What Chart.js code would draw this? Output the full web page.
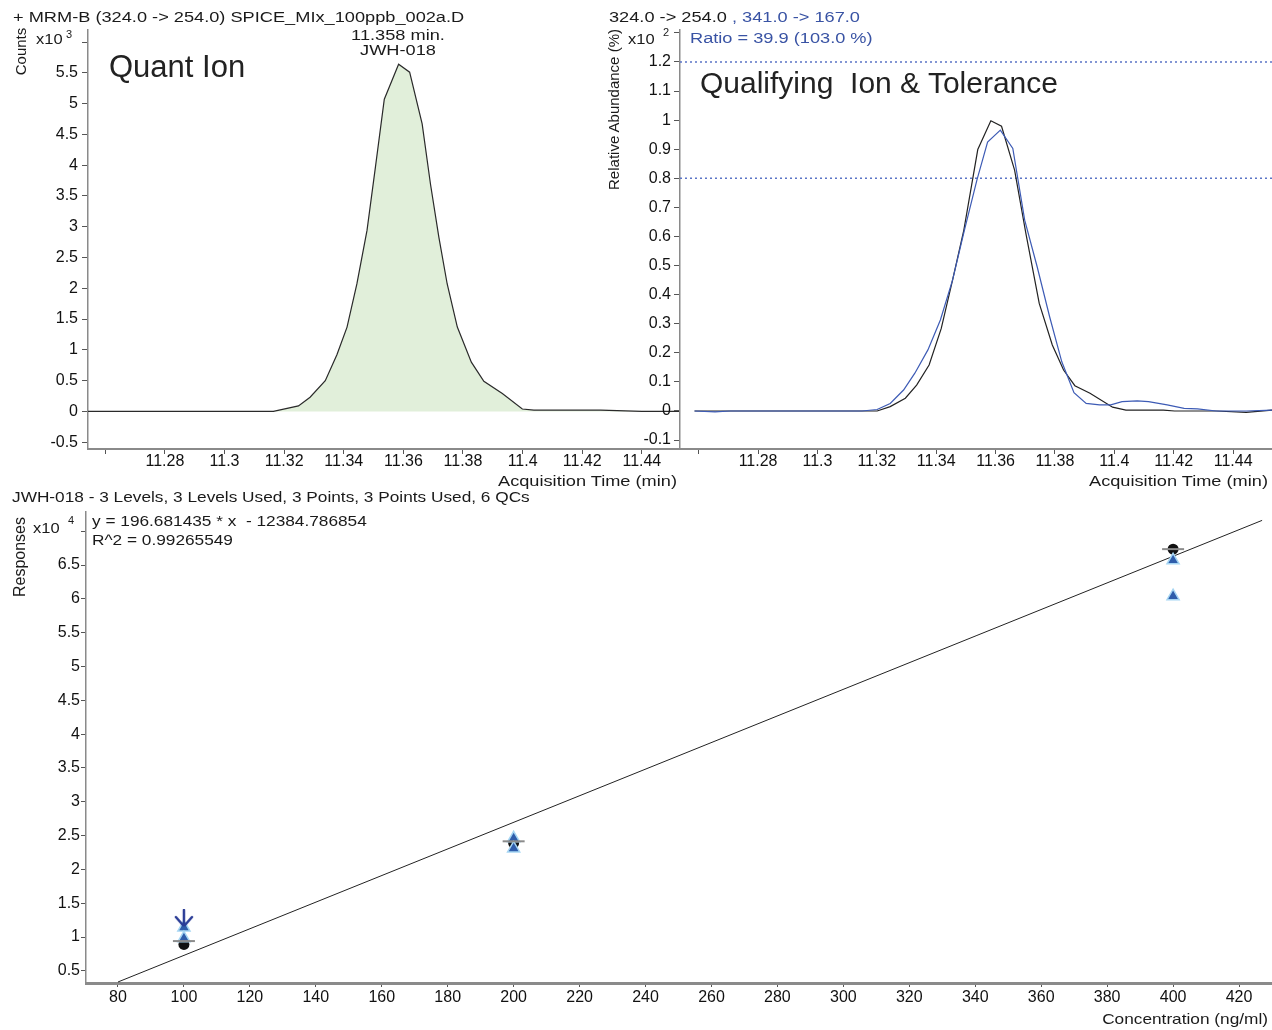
<!DOCTYPE html>
<html>
<head>
<meta charset="utf-8">
<title>JWH-018 quant ion / qualifier / calibration</title>
<script src="https://cdn.jsdelivr.net/npm/chart.js@4.4.1/dist/chart.umd.min.js"></script>
<style>
  html, body { margin: 0; padding: 0; background: #fff; }
  #page { position: relative; width: 1272px; height: 1030px; overflow: hidden;
          font-family: "Liberation Sans", Arial, Helvetica, sans-serif; color: #1a1a1a; }
  canvas { position: absolute; }
  .t { position: absolute; white-space: pre; line-height: 1; }
  .sm { font-size: 14px; transform: scaleX(1.3); transform-origin: left center; }
  .md { font-size: 15px; transform: scaleX(1.15); transform-origin: left center; }
  .x10 { font-size: 15px; transform: scaleX(1.1); transform-origin: left center; }
  .right { text-align: right; width: 300px; transform-origin: right center; }
  .center { text-align: center; width: 200px; transform-origin: center center; }
  .rot { text-align: center; transform: rotate(-90deg); transform-origin: center center; }
  .blue { color: #3953a4; }
</style>
</head>
<body>
<div id="page">
  <canvas id="quantChart" width="680" height="500" style="left:0;top:0"></canvas>
  <canvas id="qualChart" width="672" height="500" style="left:600px;top:0"></canvas>
  <canvas id="calChart" width="1272" height="530" style="left:0;top:500px"></canvas>

  <!-- quant ion panel -->
  <div class="t sm" style="left:13px;top:10px">+ MRM-B (324.0 -&gt; 254.0) SPICE_MIx_100ppb_002a.D</div>
  <div class="t rot" style="left:-20px;top:44px;width:80px;font-size:15px">Counts</div>
  <div class="t x10" style="left:36px;top:31px">x10</div>
  <div class="t" style="left:66px;top:29px;font-size:11px">3</div>
  <div class="t" style="left:109px;top:51px;font-size:31px;color:#222">Quant Ion</div>
  <div class="t sm center" style="left:298px;top:28px">11.358 min.</div>
  <div class="t sm center" style="left:298px;top:43px">JWH-018</div>
  <div class="t sm right" style="left:377px;top:474px">Acquisition Time (min)</div>

  <!-- qualifier panel -->
  <div class="t sm" style="left:609px;top:10px">324.0 -&gt; 254.0 <span class="blue">, 341.0 -&gt; 167.0</span></div>
  <div class="t sm blue" style="left:690px;top:31px">Ratio = 39.9 (103.0 %)</div>
  <div class="t rot" style="left:513px;top:102px;width:200px;font-size:15px">Relative Abundance (%)</div>
  <div class="t x10" style="left:628px;top:31px">x10</div>
  <div class="t" style="left:663px;top:27px;font-size:11px">2</div>
  <div class="t" style="left:700px;top:68px;font-size:30px;color:#222">Qualifying  Ion &amp; Tolerance</div>
  <div class="t sm right" style="left:968px;top:474px">Acquisition Time (min)</div>

  <!-- calibration panel -->
  <div class="t md" style="left:12px;top:489px">JWH-018 - 3 Levels, 3 Levels Used, 3 Points, 3 Points Used, 6 QCs</div>
  <div class="t rot" style="left:-80px;top:549px;width:200px;font-size:16px">Responses</div>
  <div class="t x10" style="left:33px;top:520px">x10</div>
  <div class="t" style="left:68px;top:515px;font-size:11px">4</div>
  <div class="t md" style="left:92px;top:513px">y = 196.681435 * x  - 12384.786854</div>
  <div class="t md" style="left:92px;top:532px">R^2 = 0.99265549</div>
  <div class="t md right" style="left:968px;top:1011px">Concentration (ng/ml)</div>
</div>

<script>
// ---- quant ion trace (324.0 -> 254.0), counts x10^3 ----
const quantTime = [11.2542, 11.3000, 11.3164, 11.3248, 11.3287, 11.3338, 11.3377, 11.3411,
  11.3444, 11.3478, 11.3506, 11.3536, 11.3584, 11.3621, 11.3663, 11.3691, 11.3719, 11.3747,
  11.3781, 11.3828, 11.3870, 11.3932, 11.3999, 11.4038, 11.4262, 11.4400, 11.4530];
const quantCounts = [0.00, 0.00, 0.00, 0.09, 0.23, 0.50, 0.92, 1.37,
  2.07, 2.94, 3.96, 5.07, 5.64, 5.51, 4.67, 3.69, 2.83, 2.07,
  1.37, 0.80, 0.49, 0.29, 0.04, 0.02, 0.02, 0.00, 0.00];
const halfLineTime = [11.3382, 11.3808];
const halfLineCounts = [1.0, 1.0];

// ---- qualifier overlay, relative abundance x10^2 ----
const quantIonTime = [11.2586, 11.3201, 11.3245, 11.3296, 11.3334, 11.3376, 11.3417, 11.3455,
  11.3493, 11.3540, 11.3584, 11.3620, 11.3664, 11.3702, 11.3747, 11.3791, 11.3829, 11.3867,
  11.3918, 11.3994, 11.4039, 11.4165, 11.4203, 11.4343, 11.4444, 11.4531];
const quantIonAbund = [0.000, 0.000, 0.015, 0.044, 0.089, 0.158, 0.284, 0.450,
  0.622, 0.899, 0.998, 0.979, 0.828, 0.611, 0.370, 0.227, 0.141, 0.087,
  0.061, 0.013, 0.003, 0.003, 0.000, 0.000, -0.005, 0.003];
const qualIonTime = [11.2586, 11.2655, 11.2706, 11.3150, 11.3201, 11.3245, 11.3290, 11.3328,
  11.3372, 11.3414, 11.3455, 11.3495, 11.3537, 11.3573, 11.3616, 11.3658, 11.3698, 11.3740,
  11.3782, 11.3823, 11.3864, 11.3905, 11.3950, 11.3988, 11.4026, 11.4077, 11.4115, 11.4178,
  11.4235, 11.4280, 11.4343, 11.4444, 11.4531];
const qualIonAbund = [0.000, -0.003, 0.000, 0.000, 0.005, 0.026, 0.072, 0.130,
  0.210, 0.313, 0.450, 0.622, 0.794, 0.925, 0.966, 0.903, 0.656, 0.496,
  0.324, 0.169, 0.063, 0.026, 0.021, 0.021, 0.032, 0.035, 0.032, 0.021,
  0.009, 0.007, 0.000, 0.000, 0.003];
const toleranceLimits = [1.2, 0.8];

// ---- calibration, responses x10^4 ----
const calLevels = [100, 200, 400];
const calResponses = [0.89, 2.39, 6.735];
const calMeans = [0.94, 2.415, 6.735];
const qcConc = [100, 100, 200, 200, 400, 400];
const qcResponses = [1.14, 0.98, 2.46, 2.31, 6.57, 6.04];
const outlierConc = [100];
const outlierResponses = [1.28];
const fitConc = [80, 427];
const fitResponses = [0.335, 7.16];

// ---- ticks ----
const timeTicks = [11.26, 11.28, 11.30, 11.32, 11.34, 11.36, 11.38, 11.40, 11.42, 11.44];
const quantYTicks = [-0.5, 0, 0.5, 1, 1.5, 2, 2.5, 3, 3.5, 4, 4.5, 5, 5.5, 6];
const qualYTicks = [-0.1, 0, 0.1, 0.2, 0.3, 0.4, 0.5, 0.6, 0.7, 0.8, 0.9, 1, 1.1, 1.2, 1.3];
const concTicks = [80, 100, 120, 140, 160, 180, 200, 220, 240, 260, 280, 300, 320, 340, 360, 380, 400, 420];
const respTicks = [0.5, 1, 1.5, 2, 2.5, 3, 3.5, 4, 4.5, 5, 5.5, 6, 6.5, 7];

Chart.defaults.font.family = '"Liberation Sans", Arial, Helvetica, sans-serif';
Chart.defaults.color = "#111";

const pts = (xs, ys) => xs.map((x, i) => ({ x, y: ys[i] }));
const dec = n => v => String(Number(v.toFixed(n)));

function makeScale({ min, max, ticks, hidden = [], width, height, tickLength, padding, borderWidth, fmt }) {
  return {
    type: "linear",
    min,
    max,
    afterBuildTicks: scale => { scale.ticks = ticks.map(v => ({ value: v })); },
    afterFit: scale => {
      if (width != null) scale.width = width;
      if (height != null) scale.height = height;
    },
    grid: { drawOnChartArea: false, drawTicks: true, tickLength, color: "#555", lineWidth: 1 },
    border: { display: true, color: "#8a8a8a", width: borderWidth },
    ticks: {
      autoSkip: false,
      maxRotation: 0,
      padding,
      color: "#111",
      font: { size: 16, lineHeight: 1 },
      callback: v => (hidden.some(h => Math.abs(h - v) < 1e-9) ? "" : fmt(v)),
    },
  };
}

const baseOptions = {
  responsive: false,
  animation: false,
  devicePixelRatio: 1,
  events: [],
  plugins: { legend: { display: false }, tooltip: { enabled: false } },
};

// quant ion chromatogram
new Chart(document.getElementById("quantChart"), {
  type: "scatter",
  data: {
    datasets: [
      {
        data: pts(quantTime, quantCounts),
        showLine: true,
        borderColor: "#2a2a2a",
        borderWidth: 1.2,
        fill: "origin",
        backgroundColor: "#e1efda",
        pointRadius: 0,
      },
      {
        data: pts(halfLineTime, halfLineCounts),
        showLine: true,
        borderColor: "#bcdcae",
        borderWidth: 1,
        pointRadius: 0,
      },
    ],
  },
  options: {
    ...baseOptions,
    layout: { autoPadding: false, padding: { left: 0, right: 0, top: 30, bottom: 0 } },
    scales: {
      x: makeScale({ min: 11.2542, max: 11.4528, ticks: timeTicks, hidden: [11.26], height: 51,
        tickLength: 5, padding: 0, borderWidth: 2, fmt: dec(2) }),
      y: makeScale({ min: -0.61, max: 6.195, ticks: quantYTicks, hidden: [6], width: 88,
        tickLength: 6, padding: 4, borderWidth: 1.5, fmt: dec(1) }),
    },
  },
});

// qualifier ratio overlay
new Chart(document.getElementById("qualChart"), {
  type: "scatter",
  data: {
    datasets: [
      { data: pts(qualIonTime, qualIonAbund), showLine: true, borderColor: "#3d5bb5", borderWidth: 1.2, pointRadius: 0 },
      { data: pts(quantIonTime, quantIonAbund), showLine: true, borderColor: "#222", borderWidth: 1.2, pointRadius: 0 },
      ...toleranceLimits.map(lim => ({
        data: pts([11.2537, 11.4531], [lim, lim]),
        showLine: true,
        borderColor: "#5b74c6",
        borderWidth: 1.5,
        borderDash: [2, 3],
        pointRadius: 0,
      })),
    ],
  },
  options: {
    ...baseOptions,
    layout: { autoPadding: false, padding: { left: 0, right: 0, top: 30, bottom: 0 } },
    scales: {
      x: makeScale({ min: 11.2537, max: 11.4531, ticks: timeTicks, hidden: [11.26], height: 51,
        tickLength: 5, padding: 0, borderWidth: 2, fmt: dec(2) }),
      y: makeScale({ min: -0.1307, max: 1.31, ticks: qualYTicks, hidden: [1.3], width: 80,
        tickLength: 6, padding: 3, borderWidth: 1.5, fmt: dec(1) }),
    },
  },
});

// outlier flag drawn as a small down arrow
function arrowMarker() {
  const c = document.createElement("canvas");
  c.width = 20;
  c.height = 18;
  const g = c.getContext("2d");
  g.strokeStyle = "#2a3c96";
  g.lineWidth = 2.5;
  g.lineCap = "round";
  g.beginPath();
  g.moveTo(10, 1); g.lineTo(10, 16);
  g.moveTo(2, 8); g.lineTo(9, 16);
  g.moveTo(18, 8); g.lineTo(11, 16);
  g.stroke();
  return c;
}

// calibration curve
new Chart(document.getElementById("calChart"), {
  type: "scatter",
  data: {
    datasets: [
      { data: pts(calLevels, calMeans), pointStyle: "line", pointRadius: 11, borderColor: "#8c8c8c", borderWidth: 2 },
      { data: pts(outlierConc, outlierResponses), pointStyle: arrowMarker(), pointRadius: 8 },
      {
        data: pts(qcConc, qcResponses),
        pointStyle: "triangle",
        pointRadius: 7,
        backgroundColor: "#2f5dab",
        borderColor: "#a6d6f3",
        borderWidth: 1.5,
      },
      { data: pts(calLevels, calResponses), pointStyle: "circle", pointRadius: 5.5, backgroundColor: "#111", borderWidth: 0 },
      { data: pts(fitConc, fitResponses), showLine: true, borderColor: "#222", borderWidth: 1, pointRadius: 0 },
    ],
  },
  options: {
    ...baseOptions,
    layout: { autoPadding: false, padding: { left: 0, right: 0, top: 12, bottom: 0 } },
    scales: {
      x: makeScale({ min: 70.3, max: 430, ticks: concTicks, height: 47,
        tickLength: 4, padding: 3, borderWidth: 3, fmt: v => String(v) }),
      y: makeScale({ min: 0.32, max: 7.284, ticks: respTicks, hidden: [7], width: 86,
        tickLength: 5, padding: 1, borderWidth: 1.5, fmt: dec(1) }),
    },
  },
});
</script>
</body>
</html>
